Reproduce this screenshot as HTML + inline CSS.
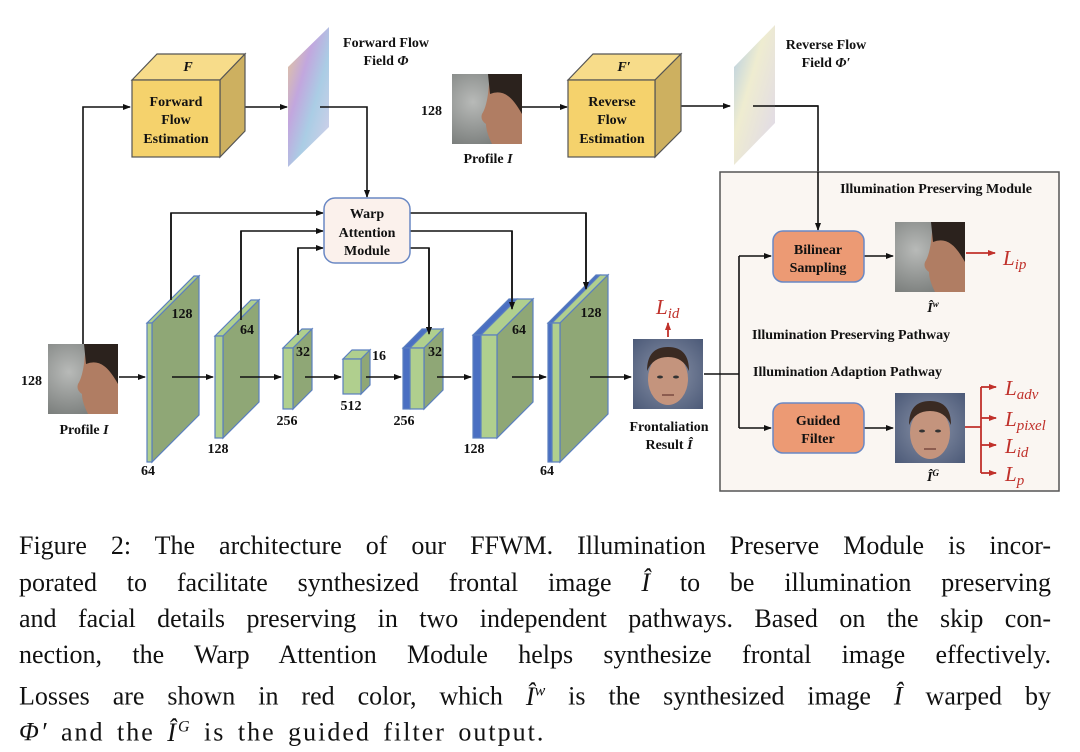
<!DOCTYPE html>
<html><head><meta charset="utf-8"><style>
html,body{margin:0;padding:0;background:#fff;width:1080px;height:752px;overflow:hidden}
svg{position:absolute;left:0;top:0}
.cap{position:absolute;left:19px;width:1032px;font-family:"Liberation Serif",serif;font-size:26px;color:#111;line-height:36px;white-space:nowrap}
.j{text-align:justify;text-align-last:justify}
.b{font-family:"Liberation Serif",serif;font-weight:bold;font-size:14px;fill:#111}
.r{font-family:"Liberation Serif",serif;font-style:italic;font-size:21px;fill:#c0312b}
.r tspan{font-size:15px}
</style></head><body>
<svg width="1080" height="752" viewBox="0 0 1080 752">
<defs>
<marker id="a" markerWidth="8" markerHeight="8" refX="7" refY="4" orient="auto" markerUnits="userSpaceOnUse"><path d="M0,1 L8,4 L0,7z" fill="#111"/></marker>
<marker id="ar" markerWidth="8" markerHeight="8" refX="7" refY="4" orient="auto" markerUnits="userSpaceOnUse"><path d="M0,1 L8,4 L0,7z" fill="#c0312b"/></marker>
<linearGradient id="ff" x1="0" y1="0" x2="1" y2="1"><stop offset="0" stop-color="#e7c47a"/><stop offset=".35" stop-color="#b797d8"/><stop offset=".6" stop-color="#9bc4e0"/><stop offset="1" stop-color="#d5c8e6"/></linearGradient>
<linearGradient id="rf" x1="0" y1="0" x2="1" y2="1"><stop offset="0" stop-color="#9fc0e0"/><stop offset=".4" stop-color="#ece9c8"/><stop offset="1" stop-color="#d8d0e8"/></linearGradient>
<radialGradient id="bg" cx=".3" cy=".4" r=".8"><stop offset="0" stop-color="#b8bab8"/><stop offset="1" stop-color="#6e7270"/></radialGradient>
<radialGradient id="bgf" cx=".5" cy=".5" r=".7"><stop offset="0" stop-color="#8a93a8"/><stop offset="1" stop-color="#4c5a78"/></radialGradient>
<g id="prof"><rect width="70" height="70" fill="url(#bg)"/><path d="M38,0 H70 V70 H40 Q34,58 34,50 Q28,46 30,40 Q34,34 36,20 Z" fill="#b07d63"/><path d="M36,0 H70 V40 Q62,26 56,22 Q48,16 38,20 Z" fill="#2b221d"/></g>
<g id="front"><rect width="70" height="70" fill="url(#bgf)"/><ellipse cx="35" cy="40" rx="20" ry="26" fill="#c4947d"/><path d="M14,32 Q14,8 35,8 Q56,8 56,32 Q50,18 35,18 Q20,18 14,32Z" fill="#3a2a22"/><ellipse cx="27" cy="38" rx="3" ry="1.5" fill="#333"/><ellipse cx="43" cy="38" rx="3" ry="1.5" fill="#333"/><path d="M29,56 H41" stroke="#7a4a40" stroke-width="1.5"/></g>
</defs>

<g stroke="#111" stroke-width="1.6" fill="none">
<path d="M83,344 V107 H130" marker-end="url(#a)"/>
<path d="M232,107 H287" marker-end="url(#a)"/>
<path d="M522,107 H567" marker-end="url(#a)"/>
<path d="M672,106 H730" marker-end="url(#a)"/>
<path d="M171,300 V213 H323" marker-end="url(#a)"/>
<path d="M241,320 V231 H323" marker-end="url(#a)"/>
<path d="M298,335 V248 H323" marker-end="url(#a)"/>
<path d="M410,213 H586 V289" marker-end="url(#a)"/>
<path d="M410,231 H512 V309" marker-end="url(#a)"/>
<path d="M410,248 H429 V334" marker-end="url(#a)"/>
<path d="M753,106 H818 V172"/>
</g>

<rect x="720" y="172" width="339" height="319" fill="#faf6f2" stroke="#555" stroke-width="1.5"/>
<g stroke="#111" stroke-width="1.6" fill="none">
<path d="M818,172 V230" marker-end="url(#a)"/>
<path d="M704,374 H739"/>
<path d="M739,256 V428"/>
<path d="M739,256 H771" marker-end="url(#a)"/>
<path d="M739,428 H771" marker-end="url(#a)"/>
<path d="M864,256 H893" marker-end="url(#a)"/>
<path d="M864,428 H893" marker-end="url(#a)"/>
</g>

<g stroke="#555" stroke-width="1.2">
<polygon points="132,80 157,54 245,54 220,80" fill="#f7dc8a"/>
<polygon points="220,80 245,54 245,131 220,157" fill="#cdb060"/>
<rect x="132" y="80" width="88" height="77" fill="#f5d26c"/>
<polygon points="568,80 593,54 681,54 655,80" fill="#f7dc8a"/>
<polygon points="655,80 681,54 681,131 655,157" fill="#cdb060"/>
<rect x="568" y="80" width="87" height="77" fill="#f5d26c"/>
</g>
<text class="b" x="188" y="71" text-anchor="middle" font-style="italic">F</text>
<text class="b" x="624" y="71" text-anchor="middle" font-style="italic">F′</text>
<g class="b" text-anchor="middle" font-size="14.5">
<text x="176" y="106">Forward</text><text x="176" y="124">Flow</text><text x="176" y="143">Estimation</text>
<text x="612" y="106">Reverse</text><text x="612" y="124">Flow</text><text x="612" y="143">Estimation</text>
</g>
<g class="b" font-size="13" text-anchor="middle">
<text x="386" y="47">Forward Flow</text><text x="386" y="65">Field <tspan font-style="italic">Φ</tspan></text>
<text x="826" y="49">Reverse Flow</text><text x="826" y="67">Field <tspan font-style="italic">Φ′</tspan></text>
</g>
<polygon points="288,67 329,27 329,127 288,167" fill="url(#ff)" opacity=".85"/>
<polygon points="734,67 775,25 775,123 734,165" fill="url(#rf)" opacity=".85"/>
<g stroke="#111" stroke-width="1.6" fill="none">
<path d="M320,107 H367 V197" marker-end="url(#a)"/>
<path d="M753,106 H818"/>
</g>

<rect x="324" y="198" width="86" height="65" rx="11" fill="#fbf1ec" stroke="#6a88c4" stroke-width="1.5"/>
<g class="b" text-anchor="middle" font-size="14"><text x="367" y="218">Warp</text><text x="367" y="237">Attention</text><text x="367" y="255">Module</text></g>

<use href="#prof" x="48" y="344"/>
<use href="#prof" x="452" y="74"/>
<use href="#front" x="633" y="339"/>
<use href="#prof" x="895" y="222"/>
<use href="#front" x="895" y="393"/>

<g class="b" font-size="13">
<text x="42" y="385" text-anchor="end">128</text>
<text x="84" y="434" text-anchor="middle">Profile <tspan font-style="italic">I</tspan></text>
<text x="442" y="115" text-anchor="end">128</text>
<text x="488" y="163" text-anchor="middle">Profile <tspan font-style="italic">I</tspan></text>
<text x="669" y="431" text-anchor="middle">Frontaliation</text>
<text x="669" y="449" text-anchor="middle">Result <tspan font-style="italic">Î</tspan></text>
<text x="933" y="312" text-anchor="middle" font-style="italic">Î<tspan font-size="9" dy="-5">w</tspan></text>
<text x="933" y="481" text-anchor="middle" font-style="italic">Î<tspan font-size="9" dy="-5">G</tspan></text>
</g>

<g stroke="#5b7fbf" stroke-width="1.2">
<polygon points="147,323 194,276 199,276 152,323" fill="#b0cf8e"/><polygon points="152,323 199,276 199,415 152,462" fill="#8fa776"/><rect x="147" y="323" width="5" height="139" fill="#b0cf8e"/>
<polygon points="215,336 251,300 259,300 223,336" fill="#b0cf8e"/><polygon points="223,336 259,300 259,402 223,438" fill="#8fa776"/><rect x="215" y="336" width="8" height="102" fill="#b0cf8e"/>
<polygon points="283,348 302,329 312,329 293,348" fill="#b0cf8e"/><polygon points="293,348 312,329 312,390 293,409" fill="#8fa776"/><rect x="283" y="348" width="10" height="61" fill="#b0cf8e"/>
<polygon points="343,359 352,350 370,350 361,359" fill="#b0cf8e"/><polygon points="361,359 370,350 370,385 361,394" fill="#8fa776"/><rect x="343" y="359" width="18" height="35" fill="#b0cf8e"/>
<polygon points="403,348 422,329 429,329 410,348" fill="#4a6fc2"/><polygon points="410,348 429,329 443,329 424,348" fill="#b0cf8e"/><polygon points="424,348 443,329 443,390 424,409" fill="#8fa776"/><rect x="403" y="348" width="7" height="61" fill="#4a6fc2"/><rect x="410" y="348" width="14" height="61" fill="#b0cf8e"/>
<polygon points="473,335 509,299 517,299 481,335" fill="#4a6fc2"/><polygon points="481,335 517,299 533,299 497,335" fill="#b0cf8e"/><polygon points="497,335 533,299 533,402 497,438" fill="#8fa776"/><rect x="473" y="335" width="8" height="103" fill="#4a6fc2"/><rect x="481" y="335" width="16" height="103" fill="#b0cf8e"/>
<polygon points="548,323 596,275 600,275 552,323" fill="#4a6fc2"/><polygon points="552,323 600,275 608,275 560,323" fill="#b0cf8e"/><polygon points="560,323 608,275 608,414 560,462" fill="#8fa776"/><rect x="548" y="323" width="4" height="139" fill="#4a6fc2"/><rect x="552" y="323" width="8" height="139" fill="#b0cf8e"/>
</g>
<g stroke="#111" stroke-width="1.6" fill="none">
<path d="M171,300 V213" /><path d="M241,320 V231"/><path d="M298,335 V248"/>
<path d="M586,213 V289" marker-end="url(#a)"/><path d="M512,231 V309" marker-end="url(#a)"/><path d="M429,248 V334" marker-end="url(#a)"/>
<path d="M119,377 H145" marker-end="url(#a)"/>
<path d="M172,377 H213" marker-end="url(#a)"/>
<path d="M240,377 H281" marker-end="url(#a)"/>
<path d="M305,377 H341" marker-end="url(#a)"/>
<path d="M366,377 H401" marker-end="url(#a)"/>
<path d="M437,377 H471" marker-end="url(#a)"/>
<path d="M512,377 H546" marker-end="url(#a)"/>
<path d="M590,377 H631" marker-end="url(#a)"/>
</g>
<g class="b" font-size="12.5" text-anchor="middle">
<text x="182" y="318">128</text><text x="148" y="475">64</text>
<text x="247" y="334">64</text><text x="218" y="453">128</text>
<text x="303" y="356">32</text><text x="287" y="425">256</text>
<text x="379" y="360">16</text><text x="351" y="410">512</text>
<text x="435" y="356">32</text><text x="404" y="425">256</text>
<text x="519" y="334">64</text><text x="474" y="453">128</text>
<text x="591" y="317">128</text><text x="547" y="475">64</text>
</g>

<text class="b" x="936" y="193" text-anchor="middle">Illumination Preserving Module</text>
<rect x="773" y="231" width="91" height="51" rx="10" fill="#ec9a74" stroke="#6a88c4" stroke-width="1.5"/>
<rect x="773" y="403" width="91" height="50" rx="10" fill="#ec9a74" stroke="#6a88c4" stroke-width="1.5"/>
<g class="b" font-size="14.5" text-anchor="middle"><text x="818" y="254">Bilinear</text><text x="818" y="272">Sampling</text><text x="818" y="425">Guided</text><text x="818" y="443">Filter</text></g>
<text class="b" x="752" y="339">Illumination Preserving Pathway</text>
<text class="b" x="753" y="376">Illumination Adaption Pathway</text>

<g stroke="#c0312b" stroke-width="1.8" fill="none">
<path d="M668,337 V323" marker-end="url(#ar)"/>
<path d="M966,253 H995" marker-end="url(#ar)"/>
<path d="M965,427 H981 M981,387 V473"/>
<path d="M981,387 H996" marker-end="url(#ar)"/>
<path d="M981,418 H996" marker-end="url(#ar)"/>
<path d="M981,445 H996" marker-end="url(#ar)"/>
<path d="M981,473 H996" marker-end="url(#ar)"/>
</g>
<text class="r" x="656" y="314">L<tspan dy="4">id</tspan></text>
<text class="r" x="1003" y="265">L<tspan dy="4">ip</tspan></text>
<text class="r" x="1005" y="395">L<tspan dy="4">adv</tspan></text>
<text class="r" x="1005" y="426">L<tspan dy="4">pixel</tspan></text>
<text class="r" x="1005" y="453">L<tspan dy="4">id</tspan></text>
<text class="r" x="1005" y="481">L<tspan dy="4">p</tspan></text>
</svg>

<div class="cap j" style="top:528px">Figure 2: The architecture of our FFWM. Illumination Preserve Module is incor-</div>
<div class="cap j" style="top:565px">porated to facilitate synthesized frontal image <i>Î</i> to be illumination preserving</div>
<div class="cap j" style="top:601px">and facial details preserving in two independent pathways. Based on the skip con-</div>
<div class="cap j" style="top:637px">nection, the Warp Attention Module helps synthesize frontal image effectively.</div>
<div class="cap j" style="top:673px">Losses are shown in red color, which <i>Î<sup style="font-size:16px">w</sup></i> is the synthesized image <i>Î</i> warped by</div>
<div class="cap" style="top:709px;letter-spacing:2px;word-spacing:4px"><i>Φ′</i> and the <i>Î<sup style="font-size:16px">G</sup></i> is the guided filter output.</div>
</body></html>
